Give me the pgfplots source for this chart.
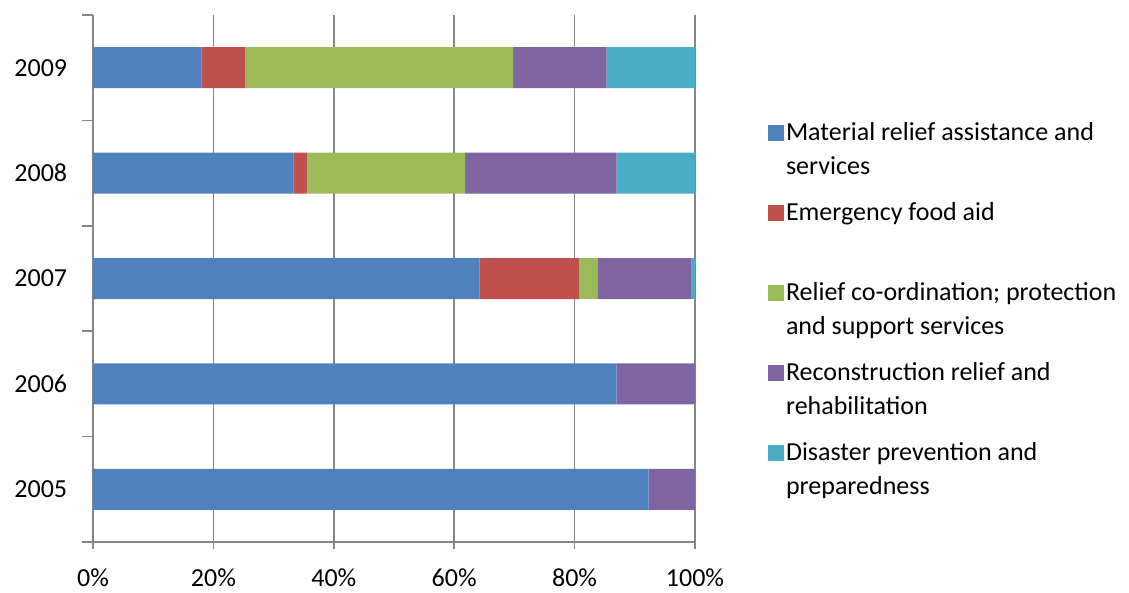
\documentclass[border=0pt]{standalone}
\usepackage{fontspec}
\setmainfont{Carlito}
\usepackage{pgfplots}
\pgfplotsset{compat=1.18}
\definecolor{cA}{HTML}{4F81BD}
\definecolor{cB}{HTML}{C0504D}
\definecolor{cC}{HTML}{9BBB59}
\definecolor{cD}{HTML}{8064A2}
\definecolor{cE}{HTML}{4BACC6}
\definecolor{ax}{HTML}{868686}
\begin{document}
\fontsize{26bp}{34bp}\selectfont
\begin{tikzpicture}
\useasboundingbox (-93bp,-51bp) rectangle (1036bp,542bp);
\begin{axis}[
  at={(0,0)}, anchor=south west,
  scale only axis, width=602bp, height=527bp,
  xbar stacked, bar width=41bp,
  xmin=0, xmax=100, ymin=-0.5, ymax=4.5,
  axis x line*=bottom, axis y line*=left,
  axis line style={draw=ax, line width=1.6bp, -},
  tick align=outside,
  major tick length=7bp, minor tick length=11bp,
  xtick={0,20,...,100},
  xticklabel={\pgfmathprintnumber{\tick}\%},
  xtick style={draw=ax, line width=1.6bp},
  xticklabel style={yshift=-11bp},
  xmajorgrids,
  major grid style={draw=ax, line width=1.6bp},
  ytick={0,1,2,3,4},
  yticklabels={2005,2006,2007,2008,2009},
  ytick style={draw=none},
  minor ytick={-0.5,0.5,1.5,2.5,3.5,4.5},
  minor y tick style={draw=ax, line width=1.6bp},
  yticklabel style={xshift=-10bp},
  /pgf/number format/assume math mode=true,
  ticklabel style={font=\fontsize{26bp}{30bp}\selectfont},
  legend style={at={(1.116,0.804)}, anchor=north west, draw=none, fill=none,
    font=\fontsize{26bp}{34bp}\selectfont, row sep=20bp,
    cells={anchor=west, align=left}},
  legend image code/.code={\path[draw=none,fill=none] (0bp,-26bp) -- (0bp,26bp);\fill[#1,draw=none] (0bp,9bp) rectangle (16bp,25bp);},
  every axis plot/.append style={draw=none},
]
\addplot[fill=cA] coordinates {(92.3,0) (87.0,1) (64.2,2) (33.3,3) (18.0,4)};
\addplot[fill=cB] coordinates {(0,0) (0,1) (16.5,2) (2.3,3) (7.3,4)};
\addplot[fill=cC] coordinates {(0,0) (0,1) (3.1,2) (26.2,3) (44.5,4)};
\addplot[fill=cD] coordinates {(7.7,0) (13.0,1) (15.5,2) (25.2,3) (15.5,4)};
\addplot[fill=cE] coordinates {(0,0) (0,1) (0.7,2) (13.0,3) (14.7,4)};
\legend{{Material relief assistance and\\services},
        {Emergency food aid\\\mbox{}},
        {Relief co-ordination; protection\\and support services},
        {Reconstruction relief and\\rehabilitation},
        {Disaster prevention and\\preparedness}}
\end{axis}
\end{tikzpicture}
\end{document}
